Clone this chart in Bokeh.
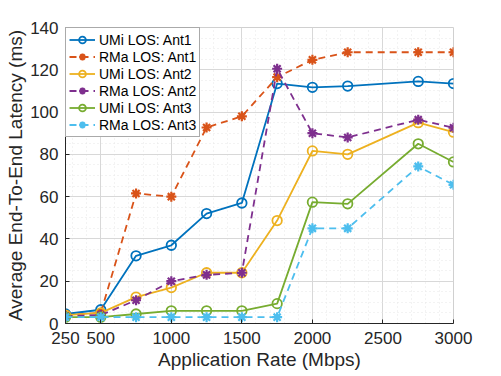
from bokeh.plotting import figure
from bokeh.models import FixedTicker, Range1d, Legend, LegendItem
from bokeh.embed import file_html
from bokeh.resources import INLINE

rates = [250, 500, 750, 1000, 1250, 1500, 1750, 2000, 2250, 2750, 3000]
umi_ant1 = [4.5, 6.5, 32, 37, 52, 57, 113.5, 111.7, 112.3, 114.5, 113.5]
rma_ant1 = [4, 5, 61.5, 60, 92.7, 98, 116.5, 124.7, 128.3, 128.3, 128.3]
umi_ant2 = [4, 5, 12.5, 17, 24, 24, 48.7, 81.6, 80, 95, 90.5]
rma_ant2 = [3.5, 4, 11, 20, 23, 24, 120.5, 90, 88, 96.4, 92.6]
umi_ant3 = [3, 3, 4.5, 6, 6, 6, 9.4, 57.4, 56.6, 85, 76.4]
rma_ant3 = [3, 3, 3, 3, 3, 3, 3, 45, 45, 74.3, 65.6]

x_ticks = [250, 500, 1000, 1500, 2000, 2500, 3000]
y_ticks = [0, 20, 40, 60, 80, 100, 120, 140]

names = ["UMi LOS: Ant1", "RMa LOS: Ant1", "UMi LOS: Ant2",
         "RMa LOS: Ant2", "UMi LOS: Ant3", "RMa LOS: Ant3"]
series = [umi_ant1, rma_ant1, umi_ant2, rma_ant2, umi_ant3, rma_ant3]
colors = ["#0072BD", "#D95319", "#EDB120", "#7E2F8E", "#77AC30", "#4DBEEE"]

FONT = "Liberation Sans"
TXT = "#262626"

p = figure(width=493, height=373, output_backend="svg", toolbar_location=None,
           x_range=Range1d(250, 3000), y_range=Range1d(0, 140),
           min_border_left=65, min_border_right=40, min_border_top=27,
           min_border_bottom=50)
p.background_fill_color = "white"
p.outline_line_color = "#d0d0d0"

xt = FixedTicker(ticks=x_ticks, minor_ticks=list(range(300, 3000, 100)))
yt = FixedTicker(ticks=y_ticks, minor_ticks=list(range(5, 140, 5)))
p.xaxis.ticker = xt
p.yaxis.ticker = yt
p.xgrid.ticker = xt
p.ygrid.ticker = yt

for ax in (p.xaxis[0], p.yaxis[0]):
    ax.axis_line_color = TXT
    ax.major_tick_line_color = TXT
    ax.minor_tick_line_color = None
    ax.major_tick_in = 4
    ax.major_tick_out = 0
    ax.major_label_text_font = FONT
    ax.major_label_text_font_size = "17px"
    ax.major_label_text_color = TXT
    ax.axis_label_text_font = FONT
    ax.axis_label_text_font_size = "19px"
    ax.axis_label_text_font_style = "normal"
    ax.axis_label_text_color = TXT
p.xaxis.axis_label = "Application Rate (Mbps)"
p.yaxis.axis_label = "Average End-To-End Latency (ms)"
p.xaxis.axis_label_standoff = 2
p.yaxis.axis_label_standoff = 1
p.xaxis.major_label_standoff = 4
p.yaxis.major_label_standoff = 3

for g in (p.xgrid[0], p.ygrid[0]):
    g.grid_line_color = "#d8d8d8"
    g.grid_line_width = 1
    g.minor_grid_line_color = "#e6e6e6"
    g.minor_grid_line_dash = "1 3"

items = []
for i, (name, ys, c) in enumerate(zip(names, series, colors)):
    dashed = (i % 2 == 1)
    r1 = p.line(rates, ys, line_color=c, line_width=1.8,
                line_dash="7 5" if dashed else "solid")
    if dashed:
        r2 = p.scatter(rates, ys, marker="asterisk", size=10, line_color=c,
                       line_width=2.2)
    else:
        r2 = p.scatter(rates, ys, marker="circle", size=9.5, line_color=c,
                       fill_color=None, line_width=1.8)
    items.append(LegendItem(label=name, renderers=[r1, r2]))

legend = Legend(items=items, location="top_left")
legend.label_text_font = FONT
legend.label_text_font_size = "14px"
legend.label_text_color = "black"
legend.glyph_width = 26
legend.glyph_height = 17
legend.label_height = 17
legend.spacing = 0
legend.padding = 3
legend.margin = 0
legend.label_standoff = 4
legend.border_line_color = "#555555"
legend.border_line_width = 1
legend.background_fill_alpha = 1
p.add_layout(legend)

open("out.html", "w").write(file_html(p, INLINE))
